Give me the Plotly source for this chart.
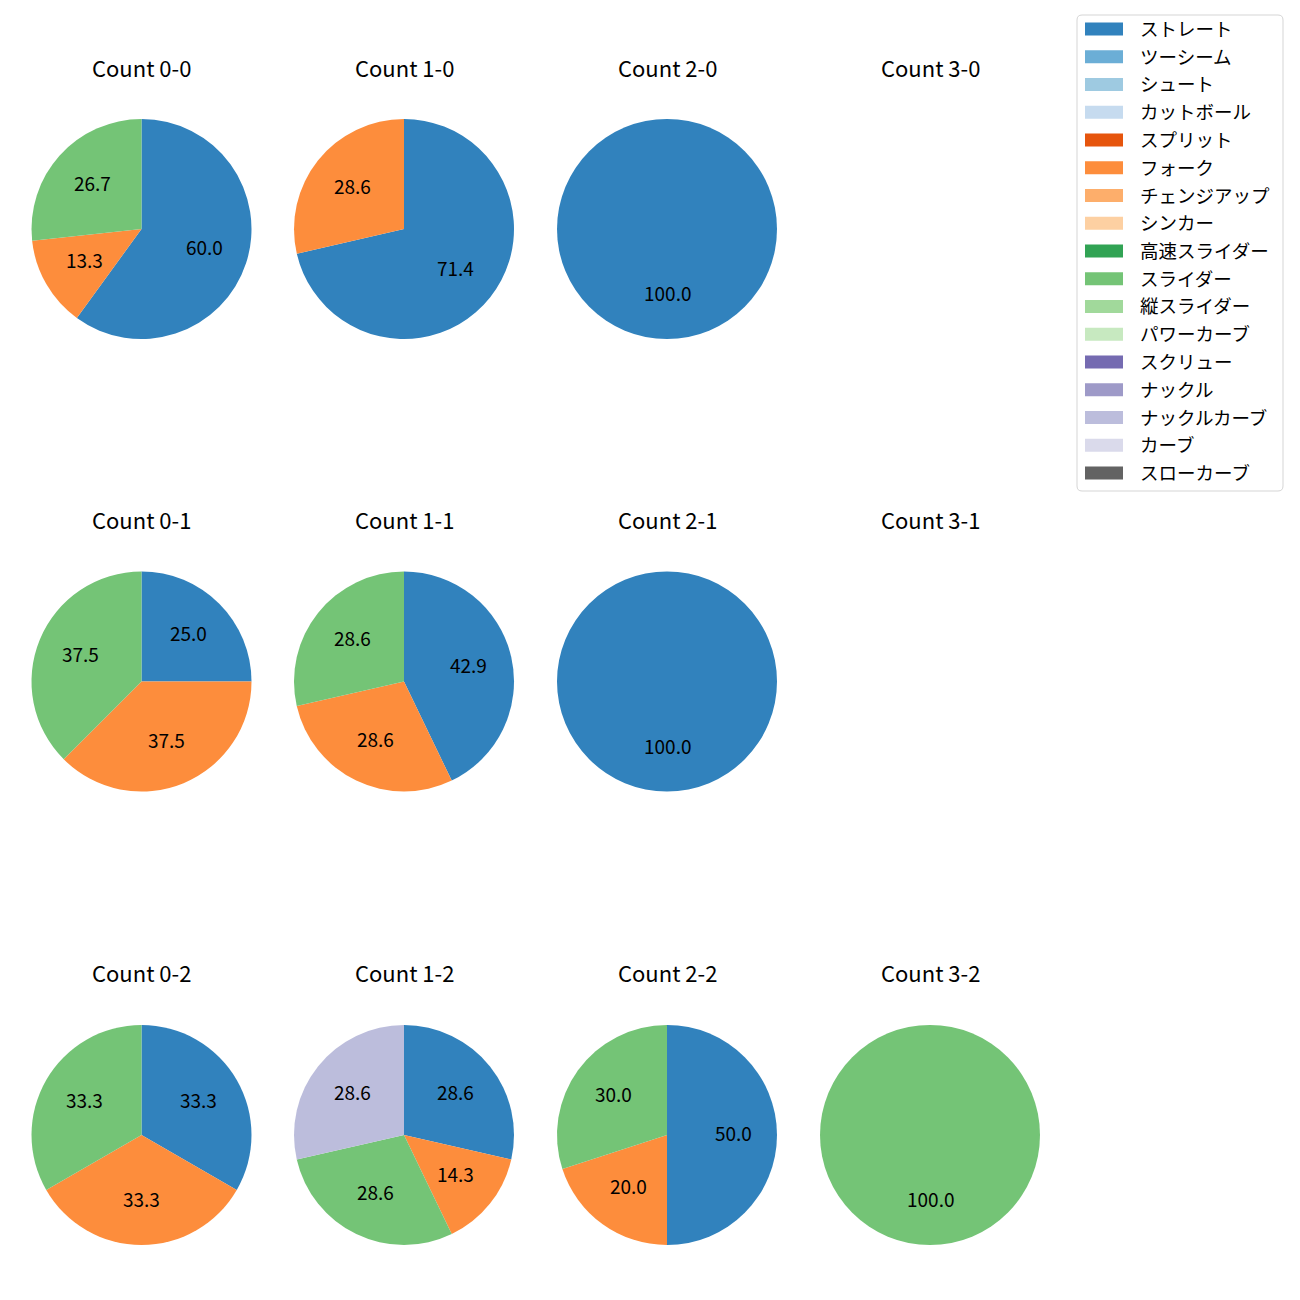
import math
import plotly.graph_objects as go

# ---- data ----
pitch_types = ["ストレート", "ツーシーム", "シュート", "カットボール", "スプリット", "フォーク",
               "チェンジアップ", "シンカー", "高速スライダー", "スライダー", "縦スライダー",
               "パワーカーブ", "スクリュー", "ナックル", "ナックルカーブ", "カーブ", "スローカーブ"]
pitch_colors = ["#3182bd", "#6baed6", "#9ecae1", "#c6dbef", "#e6550d", "#fd8d3c",
                "#fdae6b", "#fdd0a2", "#31a354", "#74c476", "#a1d99b",
                "#c7e9c0", "#756bb1", "#9e9ac8", "#bcbddc", "#dadaeb", "#636363"]

balls = [0, 1, 2, 3]
strikes = [0, 1, 2]

# per count: (labels, percentages)
pie_0_0_labels = ["ストレート", "フォーク", "スライダー"]
pie_0_0_values = [60.0, 13.3, 26.7]
pie_1_0_labels = ["ストレート", "フォーク"]
pie_1_0_values = [71.4, 28.6]
pie_2_0_labels = ["ストレート"]
pie_2_0_values = [100.0]
pie_3_0_labels = []
pie_3_0_values = []

pie_0_1_labels = ["ストレート", "フォーク", "スライダー"]
pie_0_1_values = [25.0, 37.5, 37.5]
pie_1_1_labels = ["ストレート", "フォーク", "スライダー"]
pie_1_1_values = [42.9, 28.6, 28.6]
pie_2_1_labels = ["ストレート"]
pie_2_1_values = [100.0]
pie_3_1_labels = []
pie_3_1_values = []

pie_0_2_labels = ["ストレート", "フォーク", "スライダー"]
pie_0_2_values = [33.3, 33.3, 33.3]
pie_1_2_labels = ["ストレート", "フォーク", "スライダー", "ナックルカーブ"]
pie_1_2_values = [28.6, 14.3, 28.6, 28.6]
pie_2_2_labels = ["ストレート", "フォーク", "スライダー"]
pie_2_2_values = [50.0, 20.0, 30.0]
pie_3_2_labels = ["スライダー"]
pie_3_2_values = [100.0]

pies = {
    (0, 0): (pie_0_0_labels, pie_0_0_values), (1, 0): (pie_1_0_labels, pie_1_0_values),
    (2, 0): (pie_2_0_labels, pie_2_0_values), (3, 0): (pie_3_0_labels, pie_3_0_values),
    (0, 1): (pie_0_1_labels, pie_0_1_values), (1, 1): (pie_1_1_labels, pie_1_1_values),
    (2, 1): (pie_2_1_labels, pie_2_1_values), (3, 1): (pie_3_1_labels, pie_3_1_values),
    (0, 2): (pie_0_2_labels, pie_0_2_values), (1, 2): (pie_1_2_labels, pie_1_2_values),
    (2, 2): (pie_2_2_labels, pie_2_2_values), (3, 2): (pie_3_2_labels, pie_3_2_values),
}

# ---- layout geometry (pixels, page coordinates) ----
W = H = 1300
OFF = 8  # page body margin offset
TXT_DY = -2.5  # vertical nudge for CJK font metrics
col_cx = [141.5, 404, 667, 930]
row_cy = [229, 681.5, 1135]
title_y = [69, 521, 974]
R = 110
FONT = "Noto Sans CJK JP, Noto Sans, DejaVu Sans, sans-serif"
color_map = dict(zip(pitch_types, pitch_colors))

def px(x):
    return (x - OFF) / W

def py(y):
    return 1 - (y - OFF) / H

fig = go.Figure()
annotations = []
shapes = []

for (b, s), (labs, vals) in pies.items():
    cx, cy = col_cx[b], row_cy[s]
    annotations.append(dict(x=px(cx), y=py(title_y[s] + TXT_DY), xref="paper", yref="paper",
                            text=f"Count {b}-{s}", showarrow=False,
                            xanchor="center", yanchor="middle",
                            font=dict(size=22, color="#000000", family=FONT)))
    if not vals:
        continue
    fig.add_trace(go.Pie(
        labels=labs, values=vals, sort=False, direction="clockwise", rotation=0,
        marker=dict(colors=[color_map[l] for l in labs], line=dict(width=0)),
        textinfo="none", hoverinfo="label+percent", showlegend=False,
        domain=dict(x=[px(cx - R), px(cx + R)], y=[py(cy + R), py(cy - R)]),
    ))
    total = sum(vals)
    cum = 0.0
    for v in vals:
        frac = v / total
        ang = math.radians(90 - 360 * (cum + frac / 2))
        cum += frac
        lx = cx + 0.6 * R * math.cos(ang)
        ly = cy - 0.6 * R * math.sin(ang)
        annotations.append(dict(x=px(lx), y=py(ly + TXT_DY), xref="paper", yref="paper",
                                text=f"{v:.1f}", showarrow=False,
                                xanchor="center", yanchor="middle",
                                font=dict(size=19, color="#000000", family=FONT)))

# ---- legend (drawn manually) ----
lx0, lx1, ly0, ly1, rr = 1077, 1283, 15, 491, 5
path = (f"M {px(lx0+rr)},{py(ly0)} L {px(lx1-rr)},{py(ly0)} Q {px(lx1)},{py(ly0)} {px(lx1)},{py(ly0+rr)} "
        f"L {px(lx1)},{py(ly1-rr)} Q {px(lx1)},{py(ly1)} {px(lx1-rr)},{py(ly1)} "
        f"L {px(lx0+rr)},{py(ly1)} Q {px(lx0)},{py(ly1)} {px(lx0)},{py(ly1-rr)} "
        f"L {px(lx0)},{py(ly0+rr)} Q {px(lx0)},{py(ly0)} {px(lx0+rr)},{py(ly0)} Z")
shapes.append(dict(type="path", xref="paper", yref="paper", path=path,
                   line=dict(color="#d5d5d5", width=1), fillcolor="rgba(255,255,255,0.8)"))
step = 27.75
for i, (name, col) in enumerate(zip(pitch_types, pitch_colors)):
    yc = 29 + i * step
    shapes.append(dict(type="rect", xref="paper", yref="paper",
                       x0=px(1085), x1=px(1123), y0=py(yc - 6.5), y1=py(yc + 6.5),
                       fillcolor=col, line=dict(width=0)))
    annotations.append(dict(x=px(1138), y=py(yc - 1), xref="paper", yref="paper",
                            text=name, showarrow=False, xanchor="left", yanchor="middle",
                            font=dict(size=18.5, color="#000000", family=FONT)))

fig.update_layout(width=W, height=H, margin=dict(l=0, r=0, t=0, b=0),
                  paper_bgcolor="white", plot_bgcolor="white",
                  annotations=annotations, shapes=shapes, showlegend=False)

fig.write_html("out.html")
